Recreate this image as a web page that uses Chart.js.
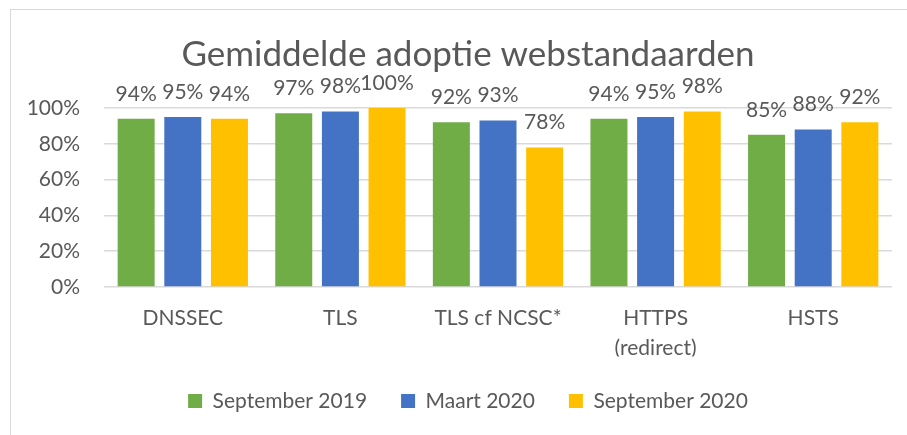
<!DOCTYPE html>
<html lang="nl">
<head>
  <meta charset="UTF-8" />
  <title>Gemiddelde adoptie webstandaarden</title>
  <script src="https://cdn.jsdelivr.net/npm/chart.js"></script>
  <style>
    html, body { margin: 0; padding: 0; background: #fff; overflow: hidden; }
    .frame { position: absolute; left: 10px; top: 9px; width: 920px; height: 450px;
             border-left: 1px solid #d9d9d9; border-top: 1px solid #d9d9d9; }
    .wrap { position: absolute; left: 0; top: 0; width: 907px; height: 435px; overflow: hidden; }
  </style>
</head>
<body>
  <div class="frame"></div>
  <!-- canvas is a bit wider than the window: the original chart frame runs past the right edge -->
  <div class="wrap"><canvas id="adoptieChart" width="936" height="435"></canvas></div>

  <script>
    // data
    const categories = ['DNSSEC', 'TLS', 'TLS cf NCSC*', ['HTTPS', '(redirect)'], 'HSTS'];
    const sept2019 = [94, 97, 92, 94, 85];
    const maart2020 = [95, 98, 93, 95, 88];
    const sept2020 = [94, 100, 78, 98, 92];
    const yTicks = [0, 20, 40, 60, 80, 100];

    const grey = '#595959';
    const fontFam = 'Lato, "Open Sans", sans-serif';

    // value labels above each bar
    const valueLabels = {
      id: 'valueLabels',
      afterDatasetsDraw(chart) {
        const ctx = chart.ctx;
        ctx.save();
        ctx.font = '21px ' + fontFam;
        ctx.fillStyle = grey;
        ctx.textAlign = 'center';
        ctx.textBaseline = 'middle';
        chart.data.datasets.forEach((ds, i) => {
          chart.getDatasetMeta(i).data.forEach((bar, j) => {
            ctx.fillText(ds.data[j] + '%', bar.x, bar.y - 25);
          });
        });
        ctx.restore();
      }
    };

    // title and legend sit centred on the whole (wider) frame, not on plot + axis
    const centerShift = {
      id: 'centerShift',
      afterLayout(chart) {
        [chart.titleBlock, chart.legend].forEach(b => { b.left += 22; b.right += 22; });
      }
    };

    new Chart(document.getElementById('adoptieChart'), {
      type: 'bar',
      data: {
        labels: categories,
        datasets: [
          { label: 'September 2019', data: sept2019, backgroundColor: '#70AD47' },
          { label: 'Maart 2020', data: maart2020, backgroundColor: '#4472C4' },
          { label: 'September 2020', data: sept2020, backgroundColor: '#FFC000' }
        ]
      },
      options: {
        responsive: false,
        animation: false,
        events: [],
        categoryPercentage: 0.888,
        barPercentage: 0.793,
        layout: { padding: { left: 0, right: 44, top: 0, bottom: 13.5 } },
        plugins: {
          title: {
            display: true,
            text: 'Gemiddelde adoptie webstandaarden',
            color: grey,
            font: { family: fontFam, size: 35, weight: 'normal', lineHeight: 1.2 },
            padding: { top: 34, bottom: 32 }
          },
          legend: {
            position: 'bottom',
            labels: {
              color: grey,
              boxWidth: 14,
              boxHeight: 14,
              padding: 34,
              font: { family: fontFam, size: 21 }
            }
          },
          tooltip: { enabled: false }
        },
        scales: {
          x: {
            grid: { display: false, drawTicks: false },
            border: { display: false },
            ticks: {
              color: grey,
              padding: 16,
              font: { family: fontFam, size: 21, lineHeight: 1.43 }
            },
            afterFit(scale) { scale.height = 69.5; }
          },
          y: {
            min: 0,
            max: 100,
            afterBuildTicks(scale) { scale.ticks = yTicks.map(v => ({ value: v })); },
            grid: { color: '#d9d9d9', lineWidth: 1.5, drawTicks: false },
            border: { display: false },
            ticks: {
              color: grey,
              padding: 24,
              font: { family: fontFam, size: 21 },
              callback: v => v + '%'
            },
            afterFit(scale) { scale.width = 104; }
          }
        }
      },
      plugins: [valueLabels, centerShift]
    });
  </script>
</body>
</html>
